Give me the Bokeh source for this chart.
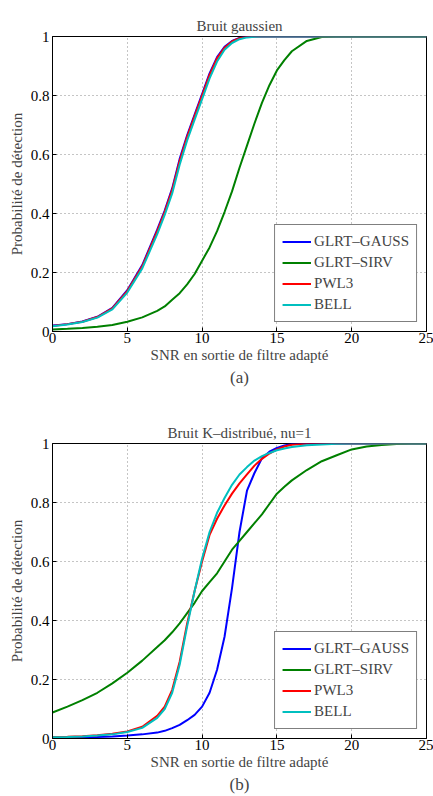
from bokeh.plotting import figure
from bokeh.models import (ColumnDataSource, Legend, LegendItem, FixedTicker,
                          CustomJSTickFormatter, Title, Range1d)
from bokeh.layouts import column
from bokeh.embed import file_html
from bokeh.resources import INLINE

# ---------------- data ----------------
snr = [0, 1, 2, 3, 4, 5, 6, 7, 7.5, 8, 8.5, 9, 9.5, 10, 10.5, 11, 11.5, 12, 12.5,
       13, 13.5, 14, 14.5, 15, 15.5, 16, 17, 18, 19, 20, 21, 22, 23, 24, 25]

# (a) Bruit gaussien
a_glrt_gauss = [0.020, 0.025, 0.034, 0.050, 0.080, 0.140, 0.225, 0.345, 0.410, 0.485, 0.585,
                0.665, 0.735, 0.805, 0.875, 0.930, 0.965, 0.985, 0.995, 0.999, 1.0, 1.0, 1.0,
                1.0, 1.0, 1.0, 1.0, 1.0, 1.0, 1.0, 1.0, 1.0, 1.0, 1.0, 1.0]
a_glrt_sirv = [0.007, 0.009, 0.012, 0.016, 0.022, 0.033, 0.048, 0.070, 0.085, 0.108, 0.130,
               0.160, 0.195, 0.240, 0.285, 0.340, 0.405, 0.475, 0.555, 0.630, 0.705, 0.775,
               0.835, 0.885, 0.920, 0.950, 0.985, 0.998, 1.0, 1.0, 1.0, 1.0, 1.0, 1.0, 1.0]
a_pwl3 = [0.019, 0.025, 0.033, 0.049, 0.078, 0.137, 0.221, 0.340, 0.405, 0.480, 0.578,
          0.660, 0.730, 0.800, 0.870, 0.926, 0.962, 0.983, 0.994, 0.999, 1.0, 1.0, 1.0,
          1.0, 1.0, 1.0, 1.0, 1.0, 1.0, 1.0, 1.0, 1.0, 1.0, 1.0, 1.0]
a_bell = [0.018, 0.024, 0.032, 0.047, 0.075, 0.132, 0.214, 0.330, 0.395, 0.468, 0.565,
          0.648, 0.718, 0.788, 0.858, 0.915, 0.955, 0.978, 0.991, 0.997, 0.999, 1.0, 1.0,
          1.0, 1.0, 1.0, 1.0, 1.0, 1.0, 1.0, 1.0, 1.0, 1.0, 1.0, 1.0]

# (b) Bruit K-distribue, nu=1
b_glrt_gauss = [0.002, 0.003, 0.004, 0.005, 0.007, 0.010, 0.014, 0.020, 0.026, 0.035, 0.046,
                0.062, 0.080, 0.108, 0.155, 0.233, 0.345, 0.510, 0.700, 0.840, 0.900, 0.950,
                0.972, 0.985, 0.993, 0.998, 1.0, 1.0, 1.0, 1.0, 1.0, 1.0, 1.0, 1.0, 1.0]
b_glrt_sirv = [0.088, 0.108, 0.130, 0.155, 0.187, 0.223, 0.264, 0.310, 0.333, 0.360, 0.390,
               0.425, 0.460, 0.500, 0.530, 0.560, 0.600, 0.640, 0.670, 0.700, 0.730, 0.760,
               0.795, 0.830, 0.853, 0.875, 0.910, 0.940, 0.960, 0.980, 0.990, 0.995, 0.998,
               1.0, 1.0]
b_pwl3 = [0.005, 0.006, 0.008, 0.011, 0.016, 0.024, 0.040, 0.077, 0.108, 0.165, 0.260,
          0.390, 0.500, 0.600, 0.690, 0.745, 0.790, 0.830, 0.865, 0.895, 0.925, 0.948,
          0.966, 0.980, 0.990, 0.996, 1.0, 1.0, 1.0, 1.0, 1.0, 1.0, 1.0, 1.0, 1.0]
b_bell = [0.004, 0.005, 0.007, 0.010, 0.014, 0.022, 0.036, 0.070, 0.100, 0.155, 0.250,
          0.380, 0.500, 0.610, 0.700, 0.765, 0.815, 0.860, 0.895, 0.920, 0.942, 0.957,
          0.968, 0.977, 0.983, 0.988, 0.994, 0.997, 0.999, 1.0, 1.0, 1.0, 1.0, 1.0, 1.0]

series_names = ["GLRT\u2013GAUSS", "GLRT\u2013SIRV", "PWL3", "BELL"]
series_colors = ["#0000ff", "#008000", "#ff0000", "#00bfbf"]
x_ticks = [0, 5, 10, 15, 20, 25]
y_ticks = [0, 0.2, 0.4, 0.6, 0.8, 1]

titles = ["Bruit gaussien", "Bruit K\u2013distribu\u00e9, nu=1"]
captions = ["(a)", "(b)"]
x_label = "SNR en sortie de filtre adapt\u00e9"
y_label = "Probabilit\u00e9 de d\u00e9tection"

FONT = "Liberation Serif"


def make_plot(ys, title, caption, height, border_top, border_bottom):
    p = figure(width=433, height=height, output_backend="svg", toolbar_location=None,
               x_range=Range1d(0, 25), y_range=Range1d(0, 1),
               min_border_left=52, min_border_right=7,
               min_border_top=border_top, min_border_bottom=border_bottom)
    p.background_fill_color = "white"
    p.border_fill_color = "white"
    p.outline_line_color = "black"
    p.outline_line_width = 1

    fmt = CustomJSTickFormatter(code="return tick.toString()")
    for ax, ticks in ((p.xaxis[0], x_ticks), (p.yaxis[0], y_ticks)):
        ax.ticker = FixedTicker(ticks=ticks)
        ax.formatter = fmt
        ax.major_tick_in = 4
        ax.major_tick_out = 0
        ax.minor_tick_line_color = None
        ax.major_label_text_font = FONT
        ax.major_label_text_font_size = "15px"
        ax.major_label_text_color = "black"
        ax.axis_label_text_font = FONT
        ax.axis_label_text_font_size = "15px"
        ax.axis_label_text_font_style = "normal"
        ax.axis_line_color = "black"
        ax.major_tick_line_color = "black"
        ax.major_label_standoff = 3
        ax.axis_label_standoff = 3
    p.xaxis.axis_label = x_label
    p.yaxis.axis_label = y_label
    p.xaxis.major_label_standoff = 1
    p.xaxis.axis_label_standoff = 1

    p.add_layout(Title(text=title, align="center", text_font=FONT, text_font_size="15px",
                       text_font_style="normal", standoff=6), "above")
    p.add_layout(Title(text=caption, align="center", text_font=FONT, text_font_size="17px",
                       text_font_style="normal", standoff=0), "below")

    p.xgrid.grid_line_color = "#7f7f7f"
    p.ygrid.grid_line_color = "#7f7f7f"
    p.xgrid.grid_line_dash = "1 3"
    p.ygrid.grid_line_dash = "1 3"
    p.xgrid.grid_line_alpha = 0.9
    p.ygrid.grid_line_alpha = 0.9
    p.xgrid.ticker = FixedTicker(ticks=x_ticks)
    p.ygrid.ticker = FixedTicker(ticks=y_ticks)

    items = []
    for name, color, y in zip(series_names, series_colors, ys):
        src = ColumnDataSource(dict(x=snr, y=y))
        r = p.line("x", "y", source=src, line_color=color, line_width=2)
        items.append(LegendItem(label=name, renderers=[r]))

    legend = Legend(items=items, location="bottom_right", margin=9,
                    label_text_font=FONT, label_text_font_size="15px",
                    glyph_width=29, glyph_height=19, label_height=19,
                    label_standoff=3, spacing=2, padding=7,
                    border_line_color="black", border_line_width=1,
                    background_fill_color="white", background_fill_alpha=1)
    p.add_layout(legend, "center")
    return p


p1 = make_plot([a_glrt_gauss, a_glrt_sirv, a_pwl3, a_bell], titles[0], captions[0],
               413, 36, 82)
p2 = make_plot([b_glrt_gauss, b_glrt_sirv, b_pwl3, b_bell], titles[1], captions[1],
               383, 30, 58)

layout = column(p1, p2, spacing=0)
open("out.html", "w").write(file_html(layout, INLINE))
